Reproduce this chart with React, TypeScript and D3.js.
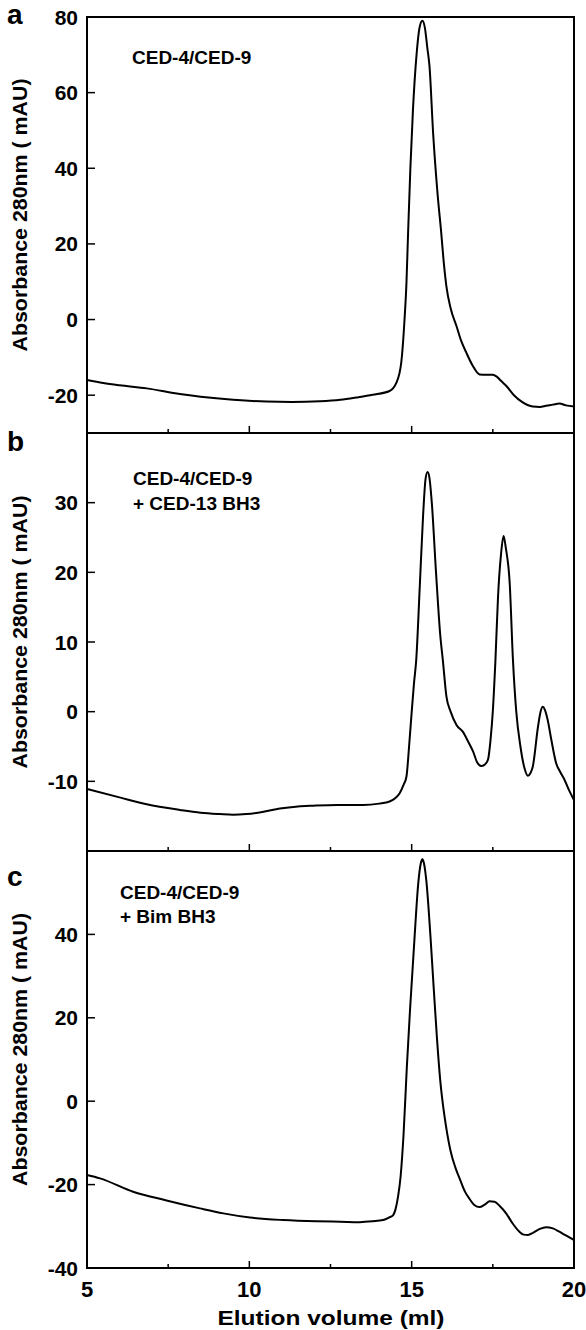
import * as d3 from 'd3';

// elution volume (ml) / absorbance 280nm (mAU)
const volA = [5, 5.5, 6, 6.84, 7.86, 8.5, 9.5, 10.53, 11.3, 12.17, 12.8, 13.3, 13.8, 14.32, 14.53, 14.68, 14.78, 14.84, 14.89, 14.96, 15.04, 15.15, 15.25, 15.33, 15.41, 15.48, 15.55, 15.66, 15.8, 15.91, 15.99, 16.07, 16.2, 16.38, 16.52, 16.68, 16.88, 17.09, 17.3, 17.5, 17.62, 17.75, 17.91, 18.15, 18.42, 18.73, 18.95, 19.14, 19.35, 19.55, 19.75, 20];
const absA = [-16, -16.8, -17.4, -18.2, -19.7, -20.4, -21.2, -21.7, -21.8, -21.6, -21.2, -20.6, -19.9, -18.9, -16.7, -11.3, 0, 9.8, 23, 40, 55.5, 70, 77.5, 79, 77, 72, 66.9, 49.4, 33, 23, 15, 8.8, 3, -1.7, -5.5, -8.7, -12.2, -14.5, -14.6, -14.6, -15.1, -16.2, -17.5, -20, -21.9, -23, -23.1, -22.8, -22.5, -22.2, -22.7, -23];

const volB = [5, 6, 6.84, 7.86, 8.5, 9.09, 9.5, 9.91, 10.4, 10.94, 11.5, 11.96, 12.7, 13.5, 14, 14.32, 14.5, 14.63, 14.75, 14.84, 14.92, 14.99, 15.07, 15.14, 15.25, 15.35, 15.43, 15.49, 15.55, 15.62, 15.75, 15.88, 15.96, 16.07, 16.2, 16.38, 16.58, 16.75, 16.89, 17.02, 17.14, 17.25, 17.35, 17.43, 17.5, 17.58, 17.66, 17.75, 17.83, 17.9, 18.02, 18.12, 18.22, 18.35, 18.48, 18.58, 18.66, 18.73, 18.89, 18.97, 19.04, 19.1, 19.19, 19.3, 19.45, 19.58, 19.71, 19.85, 20];
const absB = [-11.1, -12.3, -13.3, -14.1, -14.5, -14.7, -14.8, -14.7, -14.4, -13.9, -13.6, -13.5, -13.4, -13.4, -13.2, -12.9, -12.4, -11.7, -10.5, -9.3, -5, -0.7, 4, 7.4, 18, 28, 33.5, 34.4, 33.5, 30, 20, 11, 7.4, 2.2, 0, -1.9, -2.9, -4.4, -5.7, -7.3, -7.8, -7.6, -6.9, -4, 0.1, 7.4, 16.5, 22.5, 25.2, 23.5, 18.4, 7.4, 0.1, -5, -8.2, -9.2, -8.8, -7.9, -2.2, 0, 0.7, 0.3, -1.2, -4, -7.4, -8.7, -9.8, -11.3, -12.7];

const volC = [5, 5.4, 6.42, 7.45, 8.48, 9.2, 10.02, 11.04, 12.07, 12.8, 13.4, 13.8, 14.12, 14.3, 14.43, 14.5, 14.58, 14.66, 14.75, 14.85, 14.95, 15.09, 15.2, 15.28, 15.33, 15.38, 15.45, 15.58, 15.68, 15.78, 15.88, 16, 16.1, 16.2, 16.35, 16.5, 16.65, 16.78, 16.93, 17.09, 17.25, 17.4, 17.55, 17.72, 17.91, 18.1, 18.32, 18.45, 18.58, 18.75, 18.95, 19.14, 19.35, 19.55, 19.75, 20];
const absC = [-17.7, -18.5, -21.7, -23.8, -25.7, -26.9, -27.9, -28.5, -28.8, -28.9, -29, -28.8, -28.5, -27.9, -27.3, -26, -22.9, -18, -8, 8, 22, 39.4, 52, 57, 58, 57, 53, 39.4, 27, 15, 5, -3, -8, -12, -16, -19, -21.8, -23.4, -24.9, -25.4, -24.8, -24, -24.1, -25.2, -26.9, -29.2, -31.3, -32, -32.1, -31.5, -30.6, -30.2, -30.5, -31.3, -32.2, -33.3];

const ticksA = [80, 60, 40, 20, 0, -20];
const ticksB = [30, 20, 10, 0, -10];
const ticksC = [40, 20, 0, -20, -40];
const xTicks = [5, 10, 15, 20];
const xMinor = [7.5, 12.5, 17.5];

const FONT = '"Liberation Sans", Arial, Helvetica, sans-serif';
const W = 586, H = 1330;
const left = 87, right = 574;

const x = d3.scaleLinear().domain([5, 20]).range([left, right]);

const panels = [
  { letter: 'a', vol: volA, abs: absA, ticks: ticksA, domain: [-30, 80], range: [433, 17], letterY: 24, notes: ['CED-4/CED-9'], noteX: 132, noteY: 64, gap: 0 },
  { letter: 'b', vol: volB, abs: absB, ticks: ticksB, domain: [-20, 40], range: [851, 433], letterY: 451, notes: ['CED-4/CED-9', '+ CED-13 BH3'], noteX: 133, noteY: 485, gap: 25 },
  { letter: 'c', vol: volC, abs: absC, ticks: ticksC, domain: [-40, 60], range: [1268, 851], letterY: 886, notes: ['CED-4/CED-9', '+ Bim BH3'], noteX: 120, noteY: 899, gap: 24 },
];

function Panel({ p }: { p: typeof panels[number] }) {
  const y = d3.scaleLinear().domain(p.domain).range(p.range);
  const line = d3.line<number>()
    .x((_, i) => x(p.vol[i]))
    .y(d => y(d))
    .curve(d3.curveMonotoneX);
  const [y0, y1] = p.range;
  const mid = (y0 + y1) / 2 - 10;
  return (
    <g>
      <rect x={left} y={y1} width={right - left} height={y0 - y1} fill="none" stroke="#000" strokeWidth={2} />
      {p.ticks.map(t => (
        <g key={t}>
          <line x1={left} x2={left + 8} y1={y(t)} y2={y(t)} stroke="#000" strokeWidth={1.5} />
          <text x={78} y={y(t)} dy="0.36em" textAnchor="end" fontSize={21} fontWeight="bold">{t}</text>
        </g>
      ))}
      {xTicks.map(t => (
        <line key={t} x1={x(t)} x2={x(t)} y1={y0} y2={y0 - 7} stroke="#000" strokeWidth={1.5} />
      ))}
      {xMinor.map(t => (
        <line key={t} x1={x(t)} x2={x(t)} y1={y0} y2={y0 - 4} stroke="#000" strokeWidth={1.5} />
      ))}
      <path d={line(p.abs) || ''} fill="none" stroke="#000" strokeWidth={2} strokeLinejoin="round" />
      <text x={7} y={p.letterY} fontSize={28} fontWeight="bold">{p.letter}</text>
      <text transform={`translate(27,${mid}) rotate(-90)`} textAnchor="middle" fontSize={20} fontWeight="bold"
        textLength={273} lengthAdjust="spacingAndGlyphs">Absorbance 280nm ( mAU)</text>
      {p.notes.map((n, i) => (
        <text key={n} x={p.noteX} y={p.noteY + i * p.gap} fontSize={19} fontWeight="bold">{n}</text>
      ))}
    </g>
  );
}

export default function App() {
  return (
    <svg width={W} height={H} style={{ position: 'absolute', left: 0, top: 0, background: '#fff' }} fontFamily={FONT}>
      <rect width={W} height={H} fill="#fff" />
      {panels.map(p => <Panel key={p.letter} p={p} />)}
      {xTicks.map(t => (
        <text key={t} x={x(t)} y={1297} textAnchor="middle" fontSize={22} fontWeight="bold">{t}</text>
      ))}
      <text x={331} y={1325} textAnchor="middle" fontSize={21} fontWeight="bold"
        textLength={227} lengthAdjust="spacingAndGlyphs">Elution volume (ml)</text>
    </svg>
  );
}
